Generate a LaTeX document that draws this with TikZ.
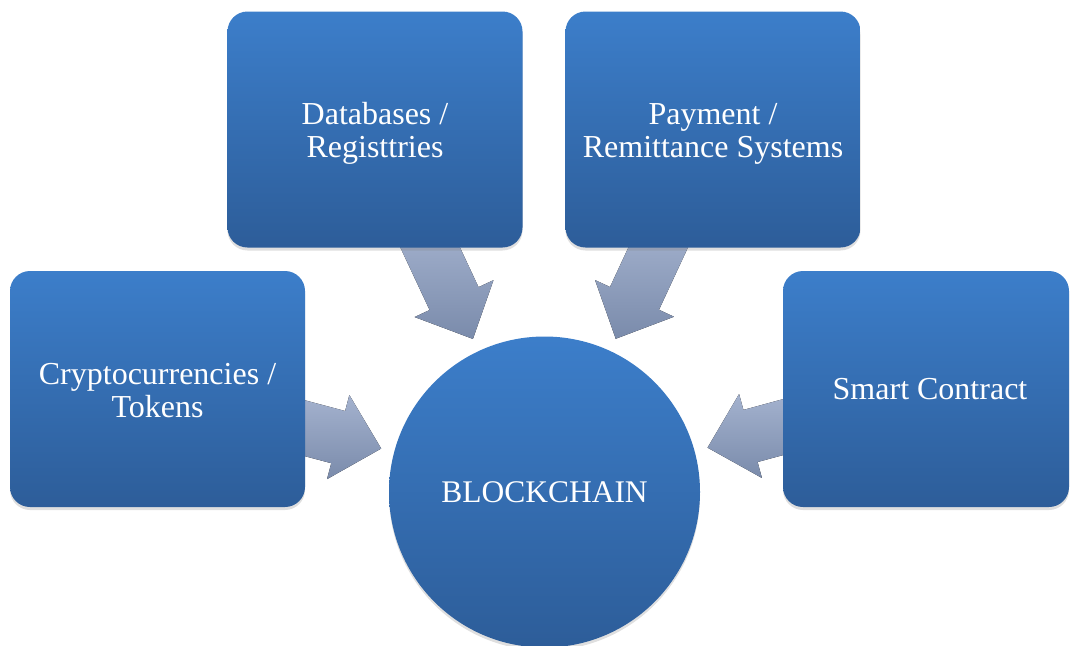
\documentclass[tikz,border=0pt]{standalone}
\usepackage{fontspec}
\setmainfont{Liberation Serif}
\usetikzlibrary{calc,shadows}
\pgfdeclarelayer{background}
\pgfsetlayers{background,main}
\definecolor{boxtop}{RGB}{60,126,202}
\definecolor{boxbot}{RGB}{45,93,153}
\definecolor{arrtop}{RGB}{166,180,208}
\definecolor{arrbot}{RGB}{122,139,171}
\tikzset{
  topic/.style={rectangle, rounded corners=20pt, minimum width=295pt, minimum height=236pt,
    top color=boxtop, bottom color=boxbot, draw=none, text=white, align=center,
    font=\fontsize{32}{33}\selectfont,
    drop shadow={opacity=0.25, shadow xshift=0pt, shadow yshift=-3pt}},
  hub/.style={circle, minimum size=311pt, inner sep=0pt,
    top color=boxtop, bottom color=boxbot, draw=none, text=white,
    font=\fontsize{31.5}{33}\selectfont,
    drop shadow={opacity=0.25, shadow xshift=0pt, shadow yshift=-3pt}},
  blockarrow/.style={top color=arrtop, bottom color=arrbot, draw=none}
}
\newcommand{\lines}[1]{\raisebox{-5pt}[\height][\depth]{\begin{tabular}{@{}c@{}}#1\end{tabular}}}
% #1 = source node, #2 = hub node
\newcommand{\blockarrowto}[2]{%
  \fill[blockarrow]
    ($(#2.center)!290pt!(#1.center)$) coordinate (t)
    ($(#2.center)!213.5pt!(#1.center)$) coordinate (h)
    ($(#2.center)!169pt!(#1.center)$) coordinate (p)
    ($(t)!27pt!90:(p)$) -- ($(h)!27pt!-90:(t)$) -- ($(h)!43.5pt!-90:(t)$) -- (p)
    -- ($(h)!43.5pt!90:(t)$) -- ($(h)!27pt!90:(t)$) -- ($(t)!27pt!-90:(p)$) -- cycle;}
\begin{document}
\begin{tikzpicture}[x=1pt,y=-1pt]
\clip (0,0) rectangle (1070,645);
\node[hub] (bc) at (544.5,492) {BLOCKCHAIN};
\node[topic] (cry) at (157.5,389) {\lines{Cryptocurrencies /\\Tokens}};
\node[topic] (db) at (375,129.5) {\lines{Databases /\\Registtries}};
\node[topic] (pay) at (713,129.5) {\lines{Payment /\\Remittance Systems}};
\node[topic, minimum width=286pt] (sc) at (926,389) {\hspace*{8pt}Smart Contract};
\begin{pgfonlayer}{background}
\blockarrowto{cry}{bc}
\blockarrowto{db}{bc}
\blockarrowto{pay}{bc}
\blockarrowto{sc}{bc}
\end{pgfonlayer}
\end{tikzpicture}
\end{document}
